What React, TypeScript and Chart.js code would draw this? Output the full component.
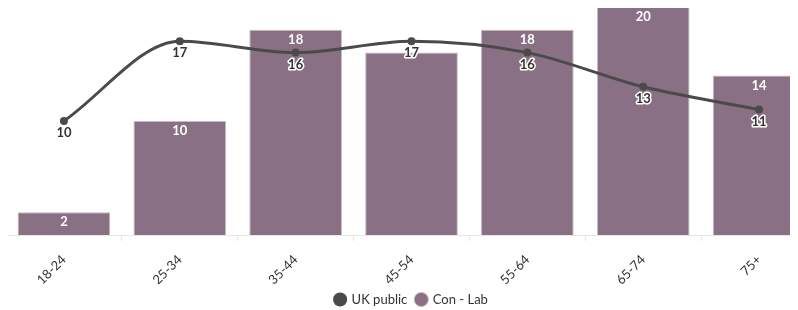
import React, { useEffect, useRef } from "react";
import { Chart, registerables } from "chart.js";

Chart.register(...registerables);

const categories = ["18-24", "25-34", "35-44", "45-54", "55-64", "65-74", "75+"];
const ukPublic = [10, 17, 16, 17, 16, 13, 11];
const conLab = [2, 10, 18, 16, 18, 20, 14];

const FONT = "Lato, 'Noto Sans', sans-serif";

const labelPlugin = {
  id: "valueLabels",
  afterDatasetsDraw(chart: any) {
    const ctx = chart.ctx;
    ctx.save();
    ctx.font = `bold 13px ${FONT}`;
    ctx.textAlign = "center";
    ctx.textBaseline = "middle";
    const lineRects: any[] = [];
    const lineMeta = chart.getDatasetMeta(0);
    const barMeta = chart.getDatasetMeta(1);
    const lineLabels: any[] = [];
    lineMeta.data.forEach((el: any, i: number) => {
      const txt = String(ukPublic[i]);
      const w = ctx.measureText(txt).width;
      const x = el.x;
      const y = el.y + 12;
      lineRects.push({ x1: x - w / 2 - 2, x2: x + w / 2 + 2, y1: y - 7, y2: y + 7 });
      lineLabels.push({ txt, x, y });
    });
    barMeta.data.forEach((el: any, i: number) => {
      const txt = String(conLab[i]);
      const w = ctx.measureText(txt).width;
      const x = el.x;
      const y = el.y + 10;
      const r = { x1: x - w / 2, x2: x + w / 2, y1: y - 6, y2: y + 6 };
      const hit = lineRects.some(
        (l) => r.x1 < l.x2 && r.x2 > l.x1 && r.y1 < l.y2 && r.y2 > l.y1
      );
      if (hit) return;
      ctx.fillStyle = "#ffffff";
      ctx.fillText(txt, x, y);
    });
    lineLabels.forEach((l) => {
      ctx.lineWidth = 3;
      ctx.strokeStyle = "#ffffff";
      ctx.lineJoin = "round";
      ctx.strokeText(l.txt, l.x, l.y);
      ctx.fillStyle = "#333333";
      ctx.fillText(l.txt, l.x, l.y);
    });
    ctx.restore();
  },
};

export default function App() {
  const ref = useRef<HTMLCanvasElement>(null);
  useEffect(() => {
    if (!ref.current) return;
    const chart = new Chart(ref.current, {
      type: "bar",
      data: {
        labels: categories,
        datasets: [
          {
            type: "line",
            label: "UK public",
            data: ukPublic,
            borderColor: "#4a4a4a",
            backgroundColor: "#4d4d4d",
            borderWidth: 3,
            pointRadius: 4,
            pointBackgroundColor: "#4a4a4a",
            pointBorderWidth: 0,
            cubicInterpolationMode: "monotone",
            order: 0,
          } as any,
          {
            type: "bar",
            label: "Con - Lab",
            data: conLab,
            backgroundColor: "#8a7084",
            borderColor: "#c9b9c5",
            borderWidth: 1,
            categoryPercentage: 0.8,
            barPercentage: 1,
            order: 1,
          },
        ],
      },
      options: {
        animation: false,
        responsive: false,
        maintainAspectRatio: false,
        layout: { padding: { left: 6, right: 13, top: 7, bottom: 0 } },
        scales: {
          y: { display: false, min: 0, max: 20 },
          x: {
            afterFit: (scale: any) => {
              scale.height = 49;
            },
            grid: {
              drawOnChartArea: false,
              drawTicks: true,
              tickLength: 6,
              color: "#e6e6e6",
            },
            border: { display: true, color: "#e6e6e6" },
            ticks: {
              maxRotation: 45,
              minRotation: 45,
              color: "#333333",
              font: { family: FONT, size: 13 },
              padding: 11,
            },
          },
        },
        plugins: {
          tooltip: { enabled: false },
          legend: {
            position: "bottom",
            labels: {
              usePointStyle: true,
              pointStyle: "circle",
              boxWidth: 10,
              boxHeight: 10,
              padding: 9,
              color: "#333333",
              font: { family: FONT, size: 13 },
            },
          },
        },
      },
      plugins: [labelPlugin],
    });
    return () => chart.destroy();
  }, []);
  return (
    <div
      style={{
        position: "relative",
        width: 798,
        height: 316,
        overflow: "hidden",
        margin: -8,
      }}
    >
      <canvas ref={ref} width={830} height={316} style={{ display: "block" }} />
    </div>
  );
}
